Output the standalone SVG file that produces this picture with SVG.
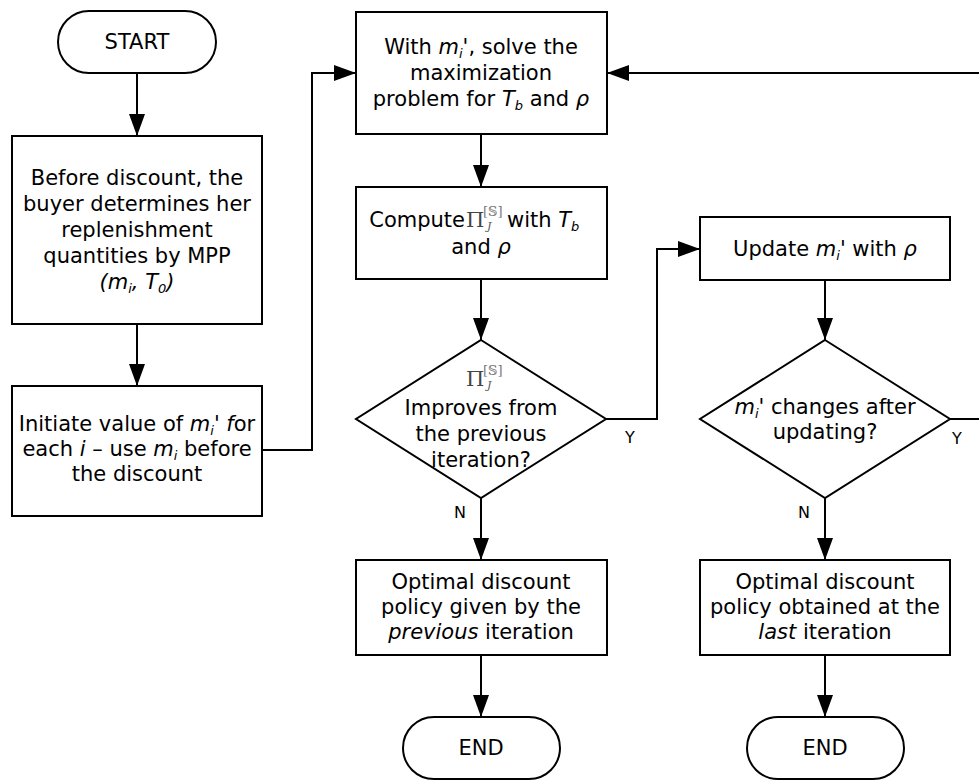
<svg xmlns="http://www.w3.org/2000/svg" width="979" height="783" viewBox="0 0 979 783">
<style>
.s{fill:#fff;stroke:#000;stroke-width:2}
.c{fill:none;stroke:#000;stroke-width:2}
.t{font-family:"DejaVu Sans",Verdana,sans-serif;font-size:21px;fill:#000;text-anchor:middle}
.st{text-anchor:start}
.en{text-anchor:end}
.i{font-style:italic}
.sub{font-size:13px}
.l{font-family:"DejaVu Sans",Verdana,sans-serif;font-size:16px;fill:#000;text-anchor:middle}
.pi{font-family:"DejaVu Serif","Liberation Serif",serif;font-size:21px;fill:#444}
.sup{font-family:"DejaVu Serif","Liberation Serif",serif;font-size:13px;fill:#777}
.j{font-family:"DejaVu Serif","Liberation Serif",serif;font-size:11px;font-style:italic;fill:#555}
</style>
<defs>
<marker id="a" markerUnits="userSpaceOnUse" markerWidth="22" markerHeight="16" refX="22" refY="8" orient="auto">
<path d="M0,0 L22,8 L0,16 z" fill="#000"/>
</marker>
</defs>
<rect width="979" height="783" fill="#fff"/>
<g id="connectors" class="c" marker-end="url(#a)">
<path d="M137,73 V136"/>
<path d="M137,324 V386"/>
<path d="M262,450 H312 V73 H356"/>
<path d="M481,134 V187"/>
<path d="M481,279 V340"/>
<path d="M606,419 H657 V249 H700"/>
<path d="M825,280 V340"/>
<path d="M950,419 H995 V73 H607"/>
<path d="M481,498 V560"/>
<path d="M481,655 V717"/>
<path d="M825,498 V560"/>
<path d="M825,655 V717"/>
</g>
<g id="labels">
<text class="l" x="630" y="443">Y</text>
<text class="l" x="957" y="444">Y</text>
<text class="l" x="460" y="518">N</text>
<text class="l" x="804" y="518">N</text>
</g>
<g id="start">
<rect class="s" x="58" y="11" width="158" height="62" rx="31"/>
<text class="t" x="137" y="49">START</text>
</g>
<g id="before">
<rect class="s" x="12" y="136" width="250" height="188"/>
<text class="t" x="137" y="185">Before discount, the</text>
<text class="t" x="137" y="211">buyer determines her</text>
<text class="t" x="137" y="237">replenishment</text>
<text class="t" x="137" y="263">quantities by MPP</text>
<text class="t i" x="137" y="289">(m<tspan class="sub" dy="4">i</tspan><tspan dy="-4">, T</tspan><tspan class="sub" dy="4">0</tspan><tspan dy="-4">)</tspan></text>
</g>
<g id="initiate">
<rect class="s" x="12" y="386" width="250" height="130"/>
<text class="t" x="137" y="431">Initiate value of <tspan class="i">m</tspan><tspan class="i sub" dy="4">i</tspan><tspan class="i" dy="-4">' f</tspan>or</text>
<text class="t" x="137" y="456">each <tspan class="i">i</tspan> – use <tspan class="i">m</tspan><tspan class="i sub" dy="4">i</tspan><tspan dy="-4"> before</tspan></text>
<text class="t" x="137" y="481">the discount</text>
</g>
<g id="solve">
<rect class="s" x="356" y="12" width="251" height="122"/>
<text class="t" x="481" y="54">With <tspan class="i">m</tspan><tspan class="i sub" dy="4">i</tspan><tspan dy="-4">', solve the</tspan></text>
<text class="t" x="481" y="80">maximization</text>
<text class="t" x="481" y="106">problem for <tspan class="i">T</tspan><tspan class="i sub" dy="4">b</tspan><tspan dy="-4"> and </tspan><tspan class="i">ρ</tspan></text>
</g>
<g id="compute">
<rect class="s" x="356" y="187" width="251" height="92"/>
<text class="t en" x="465" y="227">Compute</text>
<text class="pi" x="466" y="227">Π</text>
<text class="sup" x="483" y="216">[𝕊]</text>
<text class="j" x="487" y="230">J</text>
<text class="t st" x="507" y="227">with <tspan class="i">T</tspan><tspan class="i sub" dy="4">b</tspan></text>
<text class="t" x="481" y="254">and <tspan class="i">ρ</tspan></text>
</g>
<g id="improves">
<path class="s" d="M481,340 L606,419 L481,498 L356,419 z"/>
<text class="pi" x="466" y="386">Π</text>
<text class="sup" x="483" y="375">[𝕊]</text>
<text class="j" x="487" y="389">J</text>
<text class="t" x="481" y="415">Improves from</text>
<text class="t" x="481" y="441">the previous</text>
<text class="t" x="481" y="467">iteration?</text>
</g>
<g id="update">
<rect class="s" x="700" y="217" width="250" height="63"/>
<text class="t" x="825" y="256">Update <tspan class="i">m</tspan><tspan class="i sub" dy="4">i</tspan><tspan dy="-4">' with </tspan><tspan class="i">ρ</tspan></text>
</g>
<g id="changes">
<path class="s" d="M825,340 L950,419 L825,498 L700,419 z"/>
<text class="t" x="825" y="414"><tspan class="i">m</tspan><tspan class="i sub" dy="4">i</tspan><tspan class="i" dy="-4">'</tspan> changes after</text>
<text class="t" x="825" y="439">updating?</text>
</g>
<g id="optimal-previous">
<rect class="s" x="356" y="560" width="251" height="95"/>
<text class="t" x="481" y="589">Optimal discount</text>
<text class="t" x="481" y="614">policy given by the</text>
<text class="t" x="481" y="639"><tspan class="i">previous</tspan> iteration</text>
</g>
<g id="optimal-last">
<rect class="s" x="700" y="560" width="250" height="95"/>
<text class="t" x="825" y="589">Optimal discount</text>
<text class="t" x="825" y="614">policy obtained at the</text>
<text class="t" x="825" y="639"><tspan class="i">last</tspan> iteration</text>
</g>
<g id="end1">
<rect class="s" x="403" y="717" width="157" height="62" rx="31"/>
<text class="t" x="481" y="755">END</text>
</g>
<g id="end2">
<rect class="s" x="747" y="717" width="157" height="62" rx="31"/>
<text class="t" x="825" y="755">END</text>
</g>
</svg>
